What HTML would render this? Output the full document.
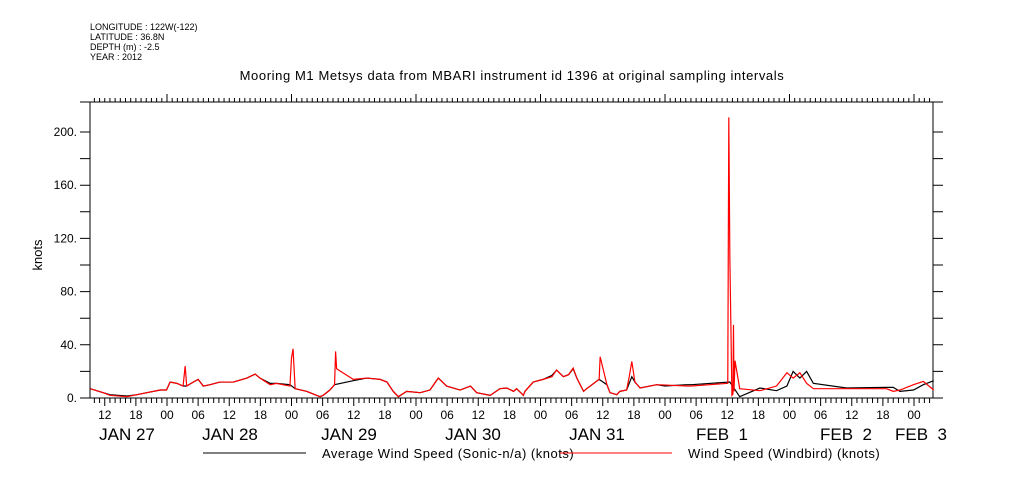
<!DOCTYPE html>
<html><head><meta charset="utf-8"><style>
html,body{margin:0;padding:0;background:#fff;}
svg{display:block;font-family:"Liberation Sans",sans-serif;}
</style></head><body>
<svg id="chart" width="1009" height="504" viewBox="0 0 1009 504" xmlns="http://www.w3.org/2000/svg">
<g font-size="9" fill="#000">
<text x="90" y="30">LONGITUDE : 122W(-122)</text>
<text x="90" y="40">LATITUDE : 36.8N</text>
<text x="90" y="50">DEPTH (m) : -2.5</text>
<text x="90" y="60">YEAR : 2012</text>
</g>
<text x="512" y="80" text-anchor="middle" font-size="13" letter-spacing="0.6">Mooring M1 Metsys data from MBARI instrument id 1396 at original sampling intervals</text>
<text transform="translate(42,255) rotate(-90)" text-anchor="middle" font-size="13">knots</text>
<g id="axes"></g>
<g id="series"></g>
<g font-size="13" letter-spacing="0.5">
<line x1="203" y1="453" x2="306" y2="453" stroke="#000"/>
<text x="322" y="458">Average Wind Speed (Sonic-n/a) (knots)</text>
<line x1="560" y1="453" x2="672" y2="453" stroke="#f00"/>
<text x="688" y="458">Wind Speed (Windbird) (knots)</text>
</g>
</svg>
<script>
// hours since JAN 27 00:00
const redT=[9.2,11.7,13.0,16.2,18.2,20.1,22.7,23.9,24.6,25.9,27.1,27.5,27.8,29.1,30.0,31.0,32.3,34.2,36.8,39.4,41.0,41.9,43.9,45.1,47.7,48.0,48.3,48.5,48.7,50.9,53.5,54.1,55.4,56.3,56.5,56.7,59.9,62.5,65.1,66.4,67.6,68.6,70.2,72.8,74.7,76.3,77.9,80.5,82.5,83.7,86.3,88.2,89.5,90.8,91.4,92.7,93.0,94.6,96.5,98.2,99.1,100.4,101.4,102.3,103.0,104.3,104.9,107.3,107.5,108.8,109.4,110.7,111.3,112.6,113.1,113.6,114.2,115.2,118.4,124.2,125.1,132.1,132.3,132.5,132.9,133.1,133.2,133.3,133.5,134.4,138.3,141.5,143.5,144.7,146.0,147.3,148.6,155.0,162.7,164.0,165.3,167.9,169.8,171.8];
const redV=[7,4,2,1,2.5,4,6,6,12,11,9,24,9,12,14,9,10,12,12,15,18,15,10,11,9,30,37,22,7,5,1,2,6,10,35,22,14,15,14,12,5,1,5,4,6,15,9,6,9,4,2,7,7.5,5,7,2,5,12,14,16,21,16,17.5,22.5,15,5,7,14,31,10,4,2.5,5,6,16,27.5,12,7.5,10,9,9,11,211,106,2,3,55,5,28,7,5.5,9,19,15,19,11,7,7,7,5,6,10,12.5,6];
const blackT=[9.2,11.7,13.0,16.2,18.2,20.1,22.7,23.9,24.6,25.9,27.1,27.8,29.1,30.0,31.0,32.3,34.2,36.8,39.4,41.0,41.9,43.9,45.1,47.7,48.7,50.9,53.5,54.1,55.4,56.3,59.9,62.5,65.1,66.4,67.6,68.6,70.2,72.8,74.7,76.3,77.9,80.5,82.5,83.7,86.3,88.2,89.5,90.8,91.4,92.7,93.0,94.6,96.5,98.2,99.1,100.4,101.4,102.3,103.0,104.3,104.9,107.3,108.8,109.4,110.7,111.3,112.6,113.6,114.2,115.2,118.4,120,124.2,125.1,132.5,134.4,138.3,141.5,143.5,144.7,146.0,147.3,148.6,155.0,162.7,164.0,165.3,167.9,169.8,171.8];
const blackV=[7,4,2.5,1.5,2.5,4,6,6,12,11,9,9,12,14,9,10,12,12,15,18,15,11,11,10,7,5,1,2,6,10,13,15,14,12,5,1,5,4,6,15,9,6,9,4,2,7,7.5,5,7,2,5,12,14,17,21,16,17.5,22,15,5,7,14,10,4,2.5,5,6,16,12,7.5,10,9,10,10,12,1,7.5,5.5,9,20,15,20,11,7.5,8,8,5,6,10,13,6];
const yTicks=[0,40,80,120,160,200];
const yTickLabels=["0.","40.","80.","120.","160.","200."];
const hourLabels=["00","06","12","18"];
const dayLabels=["JAN 27","JAN 28","JAN 29","JAN 30","JAN 31","FEB  1","FEB  2","FEB  3"];

const X0=167,PXH=5.1875,Y0=398,PXV=1.33,LEFT=90,RIGHT=933,TOP=102;
const xs=t=>X0+(t-24)*PXH;
const ys=v=>Y0-v*PXV;
const NS="http://www.w3.org/2000/svg";
function mk(tag,attrs,parent){const e=document.createElementNS(NS,tag);for(const k in attrs)e.setAttribute(k,attrs[k]);parent.appendChild(e);return e;}
const axes=document.getElementById('axes');
let d=`M80 ${TOP}H943M${LEFT} ${TOP}V${Y0}M${RIGHT} ${TOP}V${Y0}M${LEFT} ${Y0}H${RIGHT}`;
for(let v=0;v<=200;v+=20){const y=ys(v);d+=`M80 ${y}H${LEFT}M${RIGHT} ${y}H943`;}
const tStart=Math.ceil((LEFT-X0)/PXH+24),tEnd=Math.floor((RIGHT-X0)/PXH+24);
for(let t=tStart;t<=tEnd;t++){const x=xs(t);
 d+=`M${x} ${TOP}V${TOP-(t%24===0?8:4)}`;
 d+=`M${x} ${Y0}V${Y0+(t%6===0?8:5)}`;}
const ap=mk('path',{d:d,stroke:'#000','stroke-width':1,fill:'none'},axes);


yTicks.forEach((v,i)=>{const tx=mk('text',{x:77,y:ys(v)+4,'text-anchor':'end','font-size':12},axes);tx.textContent=yTickLabels[i];
 
 });
for(let t=Math.ceil(tStart/6)*6;t<=tEnd;t+=6){const tx=mk('text',{x:xs(t),y:419,'text-anchor':'middle','font-size':12},axes);tx.textContent=hourLabels[(t%24)/6];
 
 }
const dayX=[127,230,349,473,597,722,846,921];
dayLabels.forEach((s,i)=>{const tx=mk('text',{x:dayX[i],y:440,'text-anchor':'middle','font-size':17,'xml:space':'preserve'},axes);tx.textContent=s;tx.style.whiteSpace='pre';
 
 });
const ser=document.getElementById('series');
function line(T,V,color,name){const p=mk('polyline',{points:T.map((t,i)=>xs(t)+','+ys(V[i])).join(' '),fill:'none',stroke:color,'stroke-width':1.2},ser);
 
 }
line(blackT,blackV,'#000','average-wind-speed-line');
line(redT,redV,'#f00','windbird-wind-speed-line');
</script>
</body></html>
